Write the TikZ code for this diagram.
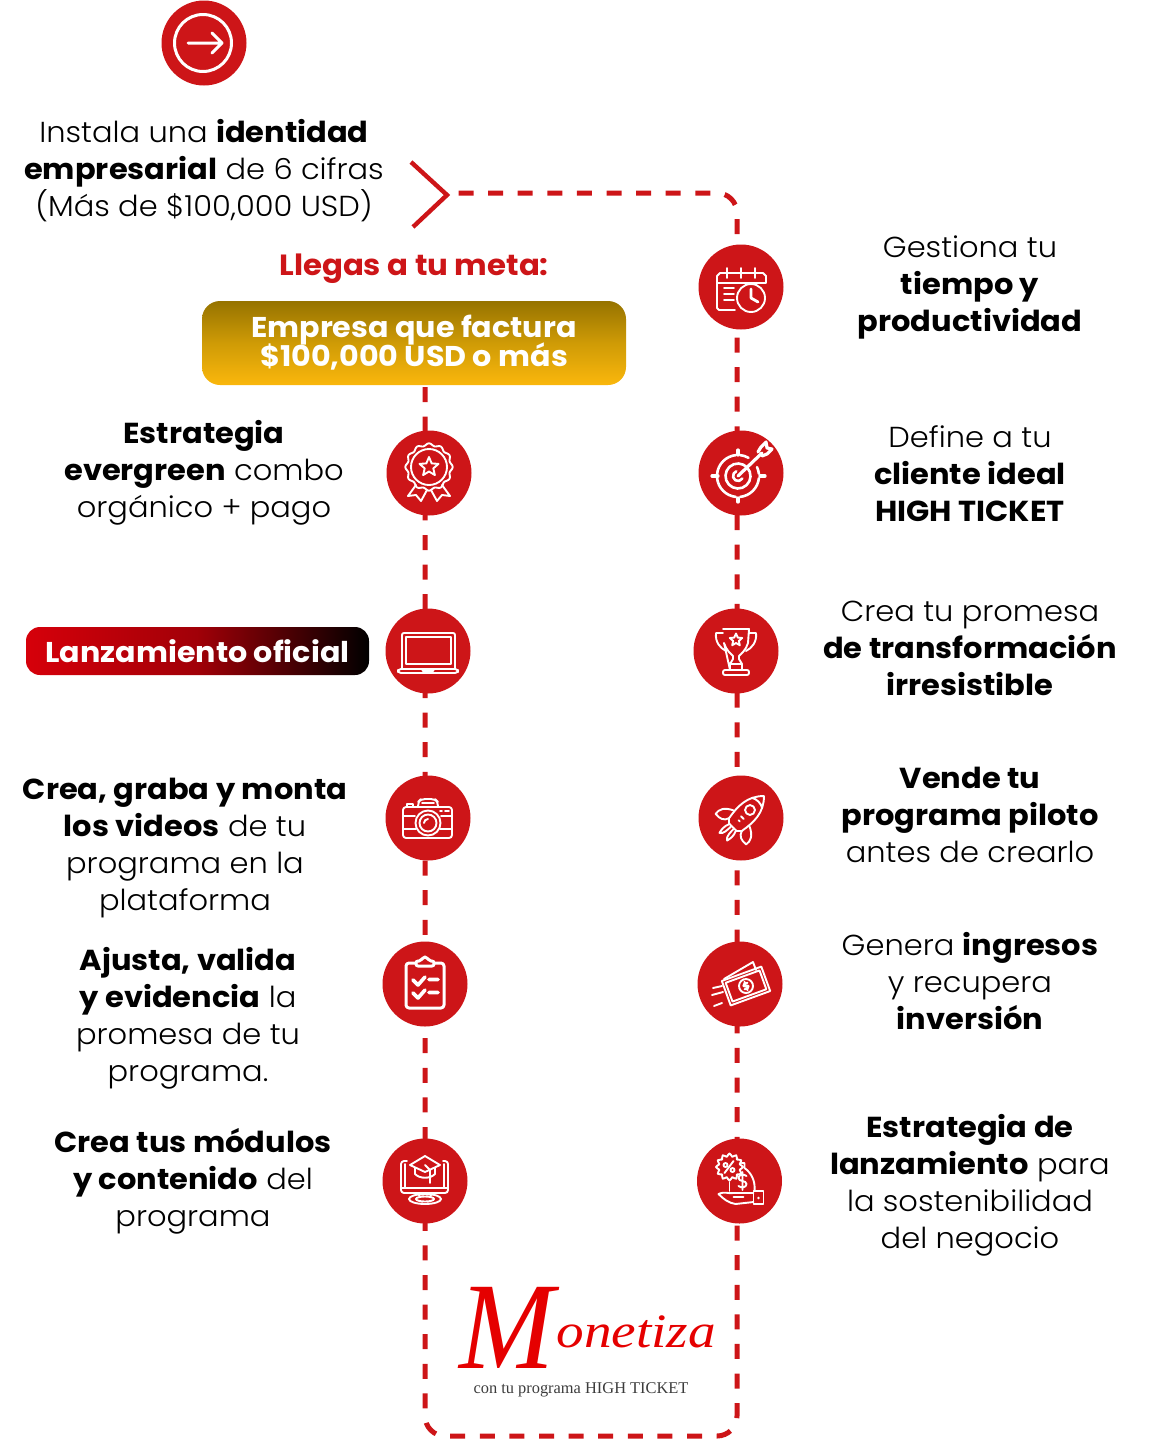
\documentclass[tikz,border=0pt]{standalone}
\usepackage{fontspec}
\setmainfont{Poppins}[UprightFont=* Light,BoldFont=* Bold,FakeStretch=1.055]
\newfontfamily\logofont{Liberation Serif}
\newfontfamily\logomfont{Liberation Serif}[FakeStretch=0.92]
\newfontfamily\logowfont{Liberation Serif}[FakeStretch=1.15]
\usepackage{xcolor}
\usepackage{tikz}
\usetikzlibrary{arrows.meta,positioning,calc,backgrounds}
\definecolor{monred}{RGB}{205,21,24}
\definecolor{goldtop}{RGB}{150,115,0}
\definecolor{goldmid}{RGB}{207,155,6}
\definecolor{goldbot}{RGB}{250,183,12}
\definecolor{pillred}{RGB}{214,0,10}
\definecolor{darkgray}{RGB}{60,60,60}
% icons, drawn around a named node
\newcommand{\iconarrow}[1]{\begin{scope}[shift={(#1.center)},ico]
  \draw[line width=1.5pt] (-1,0) circle (28.5);
  \draw[line width=1.5pt] (-16,0) -- (18,0) (8,-10) -- (18,0) -- (8,10);
\end{scope}}
\newcommand{\iconcalendar}[1]{\begin{scope}[shift={(#1.center)},ico]
  \draw (-24,-4) -- (-24,-11) -- ++(3,-3) -- (22,-14) -- ++(3,3) -- (25,-4) -- cycle;
  \draw (-14,-19) -- (-14,-9) (0,-19) -- (0,-9) (14,-19) -- (14,-9);
  \draw (-24,-4) -- (-24,21) -- ++(2,2) -- (-6,23);
  \draw (-17,1) -- (-7,1) (-17,7) -- (-7,7) (-17,13) -- (-7,13);
  \draw (10,11) circle (14);
  \draw[line width=1.4pt] (10,2) -- (10,11) -- (17,15);
\end{scope}}
\newcommand{\iconbadge}[1]{\begin{scope}[shift={(#1.center)},ico]
  \draw[smooth cycle,samples=97,domain=0:360] plot ({(22.5+1.2*cos(12*\x))*cos(\x)},{-6+(22.5+1.2*cos(12*\x))*sin(\x)});
  \draw (0,-6) circle (18);
  \draw ($(0,-6)+(-90:10)$) -- ($(0,-6)+(-54:4.5)$) -- ($(0,-6)+(-18:10)$) -- ($(0,-6)+(18:4.5)$) -- ($(0,-6)+(54:10)$) -- ($(0,-6)+(90:4.5)$) -- ($(0,-6)+(126:10)$) -- ($(0,-6)+(162:4.5)$) -- ($(0,-6)+(198:10)$) -- ($(0,-6)+(234:4.5)$) -- cycle;
  \draw (-13,12) -- (-21,23) -- (-13,22) -- (-8,28) -- (-2,17);
  \draw (13,12) -- (21,23) -- (13,22) -- (8,28) -- (2,17);
\end{scope}}
\newcommand{\icontarget}[1]{\begin{scope}[shift={(#1.center)},ico,line width=1.3pt]
  \draw (-3,3) ++(6:21) arc (6:84:21);
  \draw (-3,3) ++(96:21) arc (96:174:21);
  \draw (-3,3) ++(186:21) arc (186:264:21);
  \draw (-3,3) ++(276:21) arc (276:300:21);
  \draw (-3,3) ++(335:21) arc (335:354:21);
  \draw (-3,3) ++(340:12.5) arc (340:-65:12.5);
  \draw (-3,3) ++(30:5) arc (30:250:5);
  \draw[line width=1.6pt] (-3,3) -- (21,-20);
  \draw[line width=1.6pt] (17,-21) -- (20,-26) -- (25,-31) -- (26,-25) -- (31,-24) -- (26,-19) -- (21,-17);
  \draw[line width=1.6pt] (-29,3) -- (-23,3) (-3,25) -- (-3,29) (-3,-23) -- (-3,-18) (19,3) -- (24,3);
\end{scope}}
\newcommand{\iconlaptop}[1]{\begin{scope}[shift={(#1.center)},ico]
  \draw[rounded corners=1] (-26,18) -- (-26,-18) -- (27,-18) -- (27,18);
  \draw (-22,-14) rectangle (23,13);
  \draw[rounded corners=1.5] (-30,18) rectangle (30,22);
  \draw (-6,18) -- (-5,20) -- (5,20) -- (6,18);
\end{scope}}
\newcommand{\icontrophy}[1]{\begin{scope}[shift={(#1.center)},ico]
  \draw (-13,-22) -- (13,-22) -- (12,-8) .. controls (10,-1) and (5,3) .. (3,5) -- (3,8) -- (6,13) -- (6,19) (-6,19) -- (-6,13) -- (-3,8) -- (-3,5) .. controls (-5,3) and (-10,-1) .. (-12,-8) -- cycle;
  \draw (-5,13) -- (5,13);
  \draw[rounded corners=1] (-13,19) rectangle (13,24);
  \draw (-13,-18) -- (-20,-18) .. controls (-21,-9) and (-16,-3) .. (-10,0);
  \draw (13,-18) -- (20,-18) .. controls (21,-9) and (16,-3) .. (10,0);
  \draw ($(0,-11)+(-90:6.5)$) -- ($(0,-11)+(-54:3)$) -- ($(0,-11)+(-18:6.5)$) -- ($(0,-11)+(18:3)$) -- ($(0,-11)+(54:6.5)$) -- ($(0,-11)+(90:3)$) -- ($(0,-11)+(126:6.5)$) -- ($(0,-11)+(162:3)$) -- ($(0,-11)+(198:6.5)$) -- ($(0,-11)+(234:3)$) -- cycle;
\end{scope}}
\newcommand{\iconcamera}[1]{\begin{scope}[shift={(#1.center)},ico]
  \draw[rounded corners=1.5] (-25,-11) rectangle (24,20);
  \draw[rounded corners=2] (-10,-11) -- (-10,-16) -- (-7,-19) -- (7,-19) -- (10,-16) -- (10,-11);
  \draw (-6,-15) -- (6,-15);
  \draw (-21,-11) -- (-21,-14) -- (-15,-14) -- (-15,-11);
  \draw (-25,-2) -- (-13,-2) (13,-2) -- (24,-2) (-25,11) -- (-12,11) (12,11) -- (24,11);
  \draw (0,5) circle (12.5) (0,5) circle (8.5);
  \draw (-4,5) arc (180:270:4);
  \draw (12,-7) -- (14,-7) (17,-7) -- (21,-7);
\end{scope}}
\newcommand{\iconrocket}[1]{\begin{scope}[shift={(#1.center)},shift={(2,-1)},ico,rotate=45,scale=0.9]
  \draw (33,0) .. controls (20,-13) and (5,-13) .. (-12,-10) -- (-16,-6) -- (-16,6) -- (-12,10) .. controls (5,13) and (20,13) .. (33,0);
  \draw (22,-8) .. controls (25,-4) and (25,4) .. (22,8);
  \draw (11,0) circle (5.5);
  \draw (-1,-2) -- (-1,2) (-6,-1) -- (-6,1);
  \draw (-2,-12) .. controls (-7,-23) and (-13,-25) .. (-19,-24) .. controls (-20,-17) and (-18,-12) .. (-12,-10);
  \draw (-2,12) .. controls (-7,23) and (-13,25) .. (-19,24) .. controls (-20,17) and (-18,12) .. (-12,10);
  \draw (-16,-5) .. controls (-22,-8) and (-27,-7) .. (-31,-6) .. controls (-29,-2) and (-22,-2) .. (-16,-2);
  \draw (-16,5) .. controls (-22,8) and (-27,7) .. (-31,6) .. controls (-29,2) and (-22,2) .. (-16,2);
\end{scope}}
\newcommand{\iconclipboard}[1]{\begin{scope}[shift={(#1.center)},ico]
  \draw[line width=1.5pt,rounded corners=1.5] (-9,-21) -- (-19,-21) -- (-19,24) -- (19,24) -- (19,-21) -- (9,-21);
  \draw[line width=1.5pt,rounded corners=1] (-9,-18) -- (-9,-23) -- (-4,-23) -- (-2,-27) -- (2,-27) -- (4,-23) -- (9,-23) -- (9,-18) -- cycle;
  \draw[line width=1.8pt] (-12,-4) -- (-7,1) -- (0,-7) (4,-4.5) -- (13,-4.5);
  \draw[line width=1.8pt] (-12,9) -- (-7,14) -- (0,6) (4,8.5) -- (13,8.5);
\end{scope}}
\newcommand{\iconmoney}[1]{\begin{scope}[shift={(#1.center)},ico]
  \draw (-16,-5) -- (13,-22) -- (16,-14);
  \begin{scope}[shift={(6,2)},rotate=20]
    \draw (-21,-13) rectangle (21,13);
    \draw (-18,-10) rectangle (18,10);
    \draw (0,0) circle (7);
    \draw (2.5,-2.5) .. controls (1,-3.5) and (-2.5,-3.5) .. (-2.5,-1) .. controls (-2.5,1) and (2.5,-1) .. (2.5,1) .. controls (2.5,3.5) and (-1,3.5) .. (-2.5,2.5) (0,-4.5) -- (0,4.5);
  \end{scope}
  \draw (-27,4) -- (-18,2) (-28,11) -- (-17,8) (-26,22) -- (-18,19);
\end{scope}}
\newcommand{\iconprize}[1]{\begin{scope}[shift={(#1.center)},ico]
  \draw[samples=49,domain=0:360] plot ({-10+(12+1.5*cos(12*\x))*cos(\x)},{-14+(12+1.5*cos(12*\x))*sin(\x)}) -- cycle;
  \draw (-15,-8) -- (-6,-20);
  \draw (-14,-16) circle (2) (-7,-11) circle (2);
  \draw (2,-18) -- (5,-18) -- (5,-13) .. controls (12,-8) and (16,0) .. (15,10);
  \draw (-10,1) -- (-10,10);
  \draw (7,-5) .. controls (5,-7) and (-1,-7) .. (-1,-3) .. controls (-1,1) and (7,-1) .. (7,3) .. controls (7,7) and (1,7) .. (-1,5) (3,-9) -- (3,9);
  \draw (14,10) rectangle (24,23);
  \draw (14,12) -- (-6,12) .. controls (-12,13) and (-14,10) .. (-21,13) .. controls (-16,18) and (-11,22) .. (-4,23) -- (14,21);
  \draw (-6,16) -- (4,16);
  \fill[white] (19,17) circle (1.3);
\end{scope}}
\newcommand{\iconmonitor}[1]{\begin{scope}[shift={(#1.center)},ico]
  \draw[rounded corners=1.5] (-18,-20) -- (-24,-20) -- (-24,12) -- (23,12) -- (23,-20) -- (18,-20);
  \draw (-24,7) -- (23,7) (-20,-17) -- (-20,7) (19,-17) -- (19,7);
  \draw (-7,12) -- (-5,16) (7,12) -- (5,16);
  \draw (0,18) ellipse (16 and 5) (0,18) ellipse (9 and 2.5);
  \draw (0,-25) -- (15,-16) -- (0,-9) -- (-15,-16) -- cycle;
  \draw (-10,-13) -- (-10,-7) .. controls (-5,-2) and (5,-2) .. (10,-7) -- (10,-13);
  \draw (0,-16) -- (5,-11) -- (5,2);
\end{scope}}
\begin{document}
\begin{tikzpicture}[x=0.5pt,y=-0.5pt,
    icodot/.style={circle, fill=monred, minimum size=42.5pt, inner sep=0pt},
    ico/.style={draw=white, fill=none, line width=0.95pt, line join=round, line cap=round},
    rail/.style={draw=monred, line width=2.5pt, dash pattern=on 7.5pt off 7.3pt, rounded corners=10pt},
    txt/.style={align=center, inner sep=0pt, font=\fontsize{14.45}{18.5}\selectfont},
    banner/.style={align=center, inner sep=0pt, text=white, font=\bfseries}]
  \useasboundingbox (0,0) rectangle (1171,1440);

  % nodes
  \node[icodot] (start) at (204,43) {};
  \node[icodot] (calendar) at (741,287) {};
  \node[icodot] (target) at (741,473) {};
  \node[icodot] (trophy) at (736,651) {};
  \node[icodot] (rocket) at (741,818) {};
  \node[icodot] (money) at (740,984) {};
  \node[icodot] (prize) at (739.5,1181) {};
  \node[icodot] (badge) at (429,473) {};
  \node[icodot] (laptop) at (428,651) {};
  \node[icodot] (camera) at (428,818) {};
  \node[icodot] (clipboard) at (425,984) {};
  \node[icodot] (monitor) at (425,1181) {};

  \node[banner, rounded corners=9pt, minimum width=212pt, minimum height=42pt,
    top color=goldtop, bottom color=goldbot, middle color=goldmid,
    font=\fontsize{14.3}{14.5}\selectfont\bfseries] (goal) at (414,343) {Empresa que factura\\[-2.2pt]\$100,000 USD o más};
  \node[banner, rounded corners=7pt, minimum width=171.5pt, minimum height=24pt,
    left color=pillred, right color=black, middle color=pillred!75!black,
    font=\fontsize{14.3}{16}\selectfont\bfseries] (launch) at (197.5,651) {Lanzamiento oficial};

  % texts
  \node[txt] (identity) at (204,171) {Instala una \textbf{identidad}\\\textbf{empresarial} de 6 cifras\\(Más de \$100,000 USD)};
  \node[txt, text=monred, font=\fontsize{14.6}{18.5}\selectfont\bfseries] (metatitle) at (414,269) {Llegas a tu meta:};
  \node[txt] (evergreen) at (204,473) {\textbf{Estrategia}\\\textbf{evergreen} combo\\orgánico + pago};
  \node[txt] (videos) at (185,848.5) {\textbf{Crea, graba y monta}\\\textbf{los videos} de tu\\programa en la\\plataforma};
  \node[txt] (validate) at (188,1018.5) {\textbf{Ajusta, valida}\\\textbf{y evidencia} la\\promesa de tu\\programa.};
  \node[txt] (modules) at (193,1181) {\textbf{Crea tus módulos}\\\textbf{y contenido} del\\programa};
  \node[txt] (timetext) at (970,287) {Gestiona tu\\\textbf{tiempo y}\\\textbf{productividad}};
  \node[txt] (client) at (970,474) {Define a tu\\\textbf{cliente ideal}\\\textbf{HIGH TICKET}};
  \node[txt] (promise) at (970,648) {Crea tu promesa\\\textbf{de transformación}\\\textbf{irresistible}};
  \node[txt] (pilot) at (970,815) {\textbf{Vende tu}\\\textbf{programa piloto}\\antes de crearlo};
  \node[txt] (income) at (970,981) {Genera \textbf{ingresos}\\y recupera\\\textbf{inversión}};
  \node[txt] (launchplan) at (970,1185) {\textbf{Estrategia de}\\\textbf{lanzamiento} para\\la sostenibilidad\\del negocio};

  % logo
  \node[inner sep=0pt, anchor=base, text=red!90!black, font=\logomfont\itshape\fontsize{62}{62}\selectfont] (logoM) at (507,1368) {M};
  \node[inner sep=0pt, anchor=base west, text=red!90!black, font=\logowfont\itshape\fontsize{24}{24}\selectfont] (logoword) at (556,1347) {onetiza};
  \node[inner sep=0pt, text=darkgray, font=\logofont\fontsize{8.2}{8.2}\selectfont] (logosub) at (581,1390) {con tu programa HIGH TICKET};

  % chevron and dashed rail
  \coordinate (railstart) at (425,387);
  \coordinate (railend) at (458,193);
  \coordinate (cornerbl) at (425,1436);
  \coordinate (cornerbr) at (737,1436);
  \coordinate (cornertr) at (737,193);
  \coordinate (chevtop) at (411,162);
  \coordinate (chevtip) at (447,195);
  \coordinate (chevbot) at (413,227);
  \draw[monred, line width=2.2pt] (chevtop) -- (chevtip) -- (chevbot);
  \begin{scope}[on background layer]
    \draw[rail] (railstart) -- (badge -| railstart) -- (laptop -| railstart) -- (camera -| railstart) -- (clipboard -| railstart) -- (monitor -| railstart) -- (cornerbl) -- (cornerbr) -- (prize -| cornerbr) -- (money -| cornerbr) -- (rocket -| cornerbr) -- (trophy -| cornerbr) -- (target -| cornerbr) -- (calendar -| cornerbr) -- (cornertr) -- (railend);
  \end{scope}

  % icons
  \iconarrow{start}
  \iconcalendar{calendar}
  \iconbadge{badge}
  \icontarget{target}
  \iconlaptop{laptop}
  \icontrophy{trophy}
  \iconcamera{camera}
  \iconrocket{rocket}
  \iconclipboard{clipboard}
  \iconmoney{money}
  \iconmonitor{monitor}
  \iconprize{prize}
\end{tikzpicture}
\end{document}
